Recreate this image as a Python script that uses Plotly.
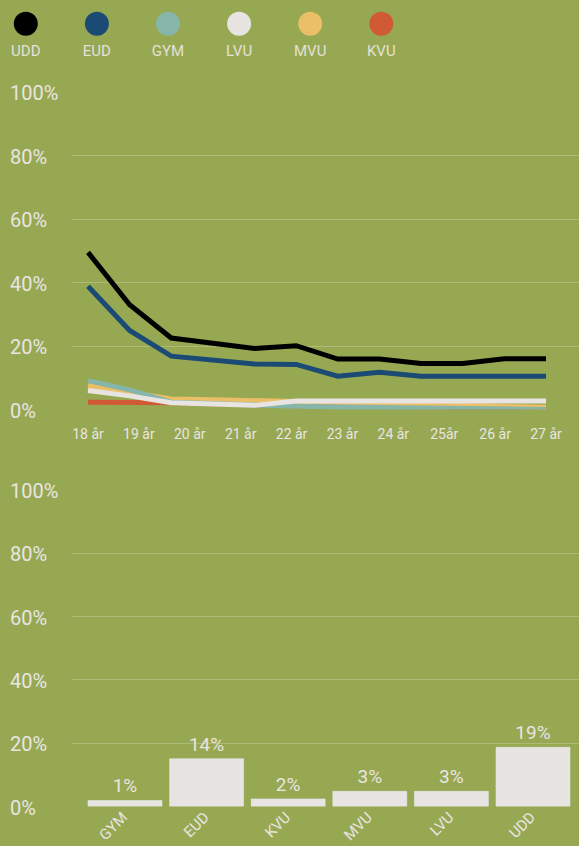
import plotly.graph_objects as go

# ---- data ----
groups = ["UDD", "EUD", "GYM", "LVU", "MVU", "KVU"]
group_colors = ["#000000", "#1b4a74", "#86b5a9", "#e8e4e2", "#ebbe68", "#d15a36"]

age_labels = ["18 år", "19 år", "20 år", "21 år", "22 år", "23 år", "24 år", "25år", "26 år", "27 år"]

# 12 measurements per line, evenly spread over the age axis
udd = [49.5, 33.0, 22.5, 20.9, 19.2, 20.1, 15.9, 15.9, 14.5, 14.5, 16.0, 16.0]
eud = [38.8, 24.9, 16.8, 15.4, 14.3, 14.2, 10.5, 11.7, 10.5, 10.5, 10.5, 10.5]
gym = [9.1, 6.2, 2.3, 1.8, 1.3, 1.0, 0.8, 0.7, 0.5, 0.3, 0.2, 0.0]
lvu = [6.0, 4.3, 2.1, 1.8, 1.3, 2.7, 2.7, 2.7, 2.7, 2.7, 2.7, 2.7]
mvu = [7.5, 5.2, 3.3, 3.1, 2.8, 2.3, 2.0, 1.7, 1.4, 1.1, 0.9, 0.7]
kvu = [2.3, 2.3, 2.1, 1.8, 1.4, 1.2, 1.0, 0.9, 0.8, 0.7, 0.6, 0.5]

bar_cats = ["GYM", "EUD", "KVU", "MVU", "LVU", "UDD"]
bar_vals = [1.9, 15.1, 2.4, 4.8, 4.8, 18.7]
bar_text = ["1%", "14%", "2%", "3%", "3%", "19%"]

pct_ticks = [0, 20, 40, 60, 80, 100]

# ---- style ----
BG = "#97a852"
GRID = "rgba(255,255,255,0.22)"
TXT = "#e9e5e2"
FONT = "Roboto"

W, H = 579, 846
n_pts = len(udd)
x_idx = list(range(n_pts))

fig = go.Figure()

# lines, bottom to top draw order
series = {"UDD": udd, "EUD": eud, "GYM": gym, "LVU": lvu, "MVU": mvu, "KVU": kvu}
color_of = dict(zip(groups, group_colors))
for name in ["KVU", "MVU", "GYM", "LVU", "EUD", "UDD"]:
    fig.add_trace(go.Scatter(
        x=x_idx, y=series[name], mode="lines", name=name,
        line=dict(color=color_of[name], width=5),
        cliponaxis=False, showlegend=False,
        xaxis="x", yaxis="y",
    ))

# bars
fig.add_trace(go.Bar(
    x=bar_cats, y=bar_vals, text=bar_text, textposition="outside",
    textfont=dict(color=TXT, size=19, family=FONT),
    marker=dict(color="#e8e4e2"), cliponaxis=False, showlegend=False,
    xaxis="x2", yaxis="y2",
))

# custom legend: circles with label under
fig.add_trace(go.Scatter(
    x=list(range(len(groups))), y=[1] * len(groups), mode="markers",
    marker=dict(color=group_colors, size=24), cliponaxis=False,
    showlegend=False, hoverinfo="skip", xaxis="x3", yaxis="y3",
))
fig.add_trace(go.Scatter(
    x=list(range(len(groups))), y=[0] * len(groups), mode="text",
    text=groups, textfont=dict(color="#e3e1d8", size=15, family=FONT),
    cliponaxis=False, showlegend=False, hoverinfo="skip", xaxis="x3", yaxis="y3",
))

# pixel layout helpers
def py(px):
    return 1 - px / H

x_left = 72 / W
top_dom = [py(409.5), py(92)]
bot_dom = [py(806.5), py(490)]
step = (546 - 88) / (n_pts - 1)
bar_step = 81.6

fig.update_layout(
    width=W, height=H,
    margin=dict(l=0, r=0, t=0, b=0),
    paper_bgcolor=BG, plot_bgcolor=BG,
    font=dict(family=FONT, color=TXT),
    bargap=0.093,
    xaxis=dict(
        domain=[x_left, 1], range=[-(88 - 72) / step, (n_pts - 1) + (579 - 546) / step],
        tickvals=[k * (n_pts - 1) / (len(age_labels) - 1) for k in range(len(age_labels))],
        ticktext=age_labels, tickfont=dict(size=14, color=TXT),
        ticks="outside", ticklen=12, tickcolor="rgba(0,0,0,0)",
        showgrid=False, zeroline=False, showline=False, fixedrange=True,
    ),
    yaxis=dict(
        domain=top_dom, range=[0, 100], tickvals=pct_ticks, showticklabels=False,
        gridcolor=GRID, gridwidth=1, zeroline=False, showline=False,
    ),
    xaxis2=dict(
        domain=[x_left, 1], anchor="y2",
        range=[-(125 - 72) / bar_step, 5 + (579 - 533) / bar_step],
        tickangle=-45, tickfont=dict(size=15, color=TXT),
        ticks="", ticklabelshift=-2, ticklabelstandoff=-2,
        showgrid=False, zeroline=False, showline=False,
    ),
    yaxis2=dict(
        domain=bot_dom, anchor="x2", range=[0, 100], tickvals=pct_ticks,
        showticklabels=False, gridcolor=GRID, gridwidth=1, zeroline=False, showline=False,
    ),
    xaxis3=dict(domain=[0, 1], anchor="y3", range=[-25.8 / 71.1, (W - 25.8) / 71.1], visible=False),
    yaxis3=dict(domain=[py(52.5), py(23.7)], anchor="x3", range=[0, 1], visible=False),
)

# left-aligned percent labels
for yref in ["y", "y2"]:
    for v in pct_ticks:
        fig.add_annotation(
            x=8 / W, xref="paper", xanchor="left",
            y=v, yref=yref, yanchor="middle", yshift=-1,
            text=f"{v}%", showarrow=False,
            font=dict(size=20, color=TXT, family=FONT),
        )

fig.write_html(
    "out.html",
    config={"displayModeBar": False},
    post_script="document.body.style.margin='0px';document.body.style.overflow='hidden';",
)
